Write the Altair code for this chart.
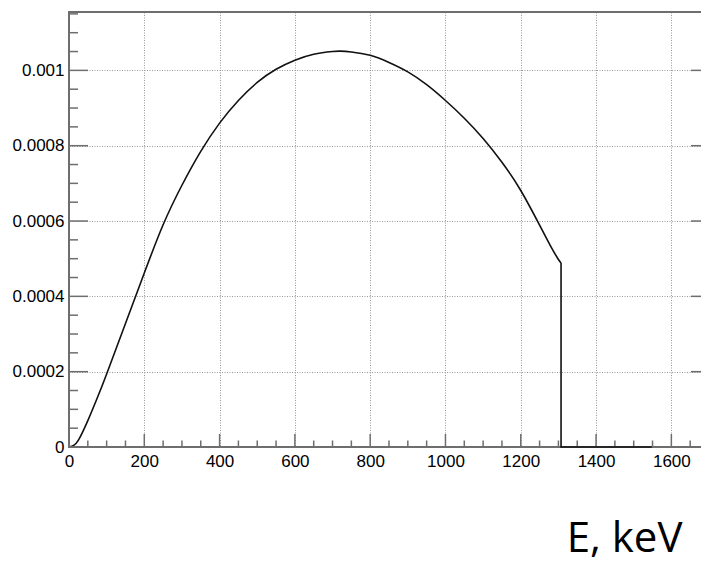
import altair as alt
import pandas as pd

# Spectrum curve (E in keV, intensity)
energy = [0, 12, 25, 50, 75, 100, 150, 200, 250, 300, 350, 400, 450, 500, 550,
          600, 650, 700, 720, 750, 800, 850, 900, 950, 1000, 1050, 1100, 1150,
          1200, 1250, 1280, 1300, 1307]
intensity = [0, 0.000004, 0.000018, 0.00007, 0.00013, 0.000194, 0.000328,
             0.000462, 0.00059, 0.000695, 0.000785, 0.00086, 0.00092,
             0.000968, 0.001003, 0.001027, 0.001043, 0.00105, 0.001051,
             0.001049, 0.00104, 0.001021, 0.000996, 0.000962, 0.00092,
             0.000873, 0.000819, 0.000756, 0.000681, 0.000589, 0.000532,
             0.000498, 0.000489]

# Endpoint drop and zero tail
drop_e = [1307, 1307, 1548]
drop_v = [0.000489, 0, 0]
drop_i = [0, 1, 2]

# Tick positions
x_major = [0, 200, 400, 600, 800, 1000, 1200, 1400, 1600]
x_minor = [50, 100, 150, 250, 300, 350, 450, 500, 550, 650, 700, 750, 850, 900,
           950, 1050, 1100, 1150, 1250, 1300, 1350, 1450, 1500, 1550, 1650]
y_major = [0, 0.0002, 0.0004, 0.0006, 0.0008, 0.001]
y_minor = [0.00005, 0.0001, 0.00015, 0.00025, 0.0003, 0.00035, 0.00045, 0.0005,
           0.00055, 0.00065, 0.0007, 0.00075, 0.00085, 0.0009, 0.00095,
           0.00105, 0.0011, 0.00115]

W, H = 640, 435
GRAY = "#6e6e6e"
GRID = "#999999"
LABEL_FONT = "Liberation Sans"

xs = alt.Scale(domain=[0, 1700], nice=False, zero=False)
ys = alt.Scale(domain=[0, 0.001155], nice=False, zero=False)

curve_df = pd.DataFrame({"E": energy, "v": intensity})
drop_df = pd.DataFrame({"E": drop_e, "v": drop_v, "i": drop_i})
frame_df = pd.DataFrame({"k": [0]})

x_axis = alt.Axis(values=x_major, format="d", grid=True, gridColor=GRID,
                  gridDash=[1, 1.5], gridWidth=1, ticks=False, tickSize=0,
                  domain=False, labelFlush=False, labelOverlap=False,
                  labelPadding=6, labelFont=LABEL_FONT, labelFontSize=17,
                  labelColor="black",
                  title="E, keV", titleFont="Open Sans", titleFontSize=42,
                  titleFontWeight="normal", titleColor="black",
                  titleAlign="right", titleX=613, titleY=104,
                  titleBaseline="alphabetic")
y_axis = alt.Axis(values=y_major, format="~g", grid=True, gridColor=GRID,
                  gridDash=[1, 1.5], gridWidth=1, ticks=False, tickSize=0,
                  domain=False, labelFlush=False, labelOverlap=False,
                  labelPadding=5, labelFont=LABEL_FONT, labelFontSize=17,
                  labelColor="black", title="")


def xticks(vals, length):
    return alt.Chart(pd.DataFrame({"E": vals})).mark_rule(
        color=GRAY, strokeWidth=1.5
    ).encode(
        x=alt.X("E:Q", scale=xs),
        y=alt.value(H),
        y2=alt.value(H - length),
    )


def yticks(vals, x0, x1):
    return alt.Chart(pd.DataFrame({"v": vals})).mark_rule(
        color=GRAY, strokeWidth=1.5
    ).encode(
        y=alt.Y("v:Q", scale=ys),
        x=alt.value(x0),
        x2=alt.value(x1),
    )


def frame(x0, x1, y0, y1):
    return alt.Chart(frame_df).mark_rule(color=GRAY, strokeWidth=2).encode(
        x=alt.value(x0), x2=alt.value(x1), y=alt.value(y0), y2=alt.value(y1)
    )


curve = alt.Chart(curve_df).mark_line(
    color="#111111", strokeWidth=1.6, interpolate="natural"
).encode(
    x=alt.X("E:Q", scale=xs, axis=x_axis),
    y=alt.Y("v:Q", scale=ys, axis=y_axis),
)

drop = alt.Chart(drop_df).mark_line(color="#111111", strokeWidth=1.6).encode(
    x=alt.X("E:Q", scale=xs),
    y=alt.Y("v:Q", scale=ys),
    order=alt.Order("i:Q"),
)

chart = alt.layer(
    curve,
    frame(0, 0, 0, H),
    frame(0, W, 0, 0),
    frame(0, W, H, H),
    xticks(x_major, 13),
    xticks(x_minor, 6.5),
    yticks(y_major, 0, 19),
    yticks(y_minor, 0, 9),
    yticks(y_major, W, W - 18),
    yticks(y_minor, W, W - 8),
    drop,
).properties(
    width=W,
    height=H,
    padding={"left": 61, "top": 4, "right": -8, "bottom": 114},
    autosize=alt.AutoSizeParams(type="none"),
).configure_view(
    stroke=GRAY, strokeWidth=2
)

chart.save("out.html", embed_options={"renderer": "svg", "actions": False})
